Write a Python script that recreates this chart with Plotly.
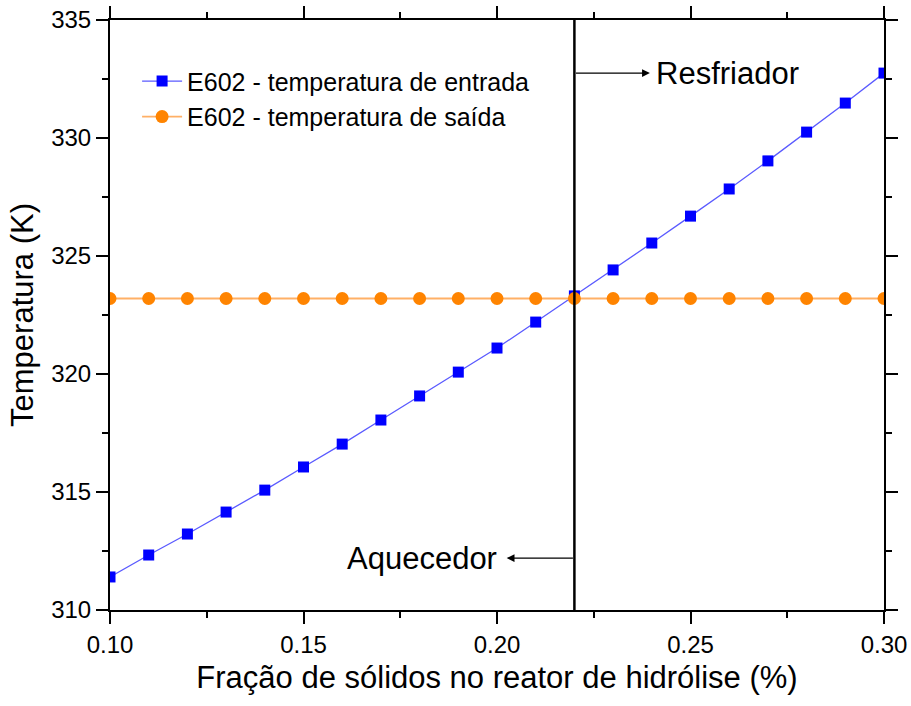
import plotly.graph_objects as go

# Fraction of solids in the hydrolysis reactor
fracao = [0.10, 0.11, 0.12, 0.13, 0.14, 0.15, 0.16, 0.17, 0.18, 0.19, 0.20,
          0.21, 0.22, 0.23, 0.24, 0.25, 0.26, 0.27, 0.28, 0.29, 0.30]
# E602 inlet temperature (K)
t_entrada = [311.40, 312.33, 313.22, 314.15, 315.08, 316.06, 317.03, 318.05,
             319.07, 320.08, 321.10, 322.20, 323.31, 324.41, 325.55, 326.69,
             327.84, 329.03, 330.25, 331.48, 332.75]
# E602 outlet temperature (K)
t_saida = [323.2] * len(fracao)

x_range = [0.10, 0.30]
y_range = [310, 335]
x_ticks = [0.10, 0.15, 0.20, 0.25, 0.30]
x_ticklabels = ["0.10", "0.15", "0.20", "0.25", "0.30"]
y_ticks = [310, 315, 320, 325, 330, 335]
x_corte = 0.22

FONT = "Liberation Sans, Arial, sans-serif"

fig = go.Figure()
fig.add_trace(go.Scatter(
    x=fracao, y=t_entrada, mode="lines+markers",
    name="E602 - temperatura de entrada",
    line=dict(color="#5a5aff", width=1.3),
    marker=dict(symbol="square", size=11, color="#0000ff"),
))
fig.add_trace(go.Scatter(
    x=fracao, y=t_saida, mode="lines+markers",
    name="E602 - temperatura de saída",
    line=dict(color="#ffb066", width=1.8),
    marker=dict(symbol="circle", size=13, color="#ff8400"),
))

# vertical divider between heater and cooler regions
fig.add_shape(type="line", xref="x", yref="paper", x0=x_corte, x1=x_corte,
              y0=0, y1=1, line=dict(color="black", width=2.5), layer="above")

# arrows and labels
fig.add_annotation(x=0.2395, y=332.75, ax=x_corte, ay=332.75, xref="x", yref="y",
                   axref="x", ayref="y", text="", showarrow=True, arrowhead=2,
                   arrowsize=1.3, arrowwidth=1.2, arrowcolor="black")
fig.add_annotation(x=0.2405, y=332.75, xref="x", yref="y", text="Resfriador",
                   showarrow=False, xanchor="left", yanchor="middle",
                   font=dict(family=FONT, size=31, color="black"))
fig.add_annotation(x=0.2025, y=312.2, ax=x_corte, ay=312.2, xref="x", yref="y",
                   axref="x", ayref="y", text="", showarrow=True, arrowhead=2,
                   arrowsize=1.3, arrowwidth=1.2, arrowcolor="black")
fig.add_annotation(x=0.2005, y=312.2, xref="x", yref="y", text="Aquecedor",
                   showarrow=False, xanchor="right", yanchor="middle",
                   font=dict(family=FONT, size=31, color="black"))

axis_common = dict(showgrid=False, zeroline=False, automargin=False,
                   showline=True, linecolor="black", linewidth=2, mirror="ticks",
                   ticks="outside", tickwidth=2, tickcolor="black", ticklen=12,
                   tickfont=dict(size=24))

fig.update_layout(
    width=911, height=706,
    margin=dict(l=110, r=27, t=20, b=96, autoexpand=False),
    paper_bgcolor="white", plot_bgcolor="white",
    font=dict(family=FONT, size=24, color="black"),
    showlegend=True,
    legend=dict(x=0.035, y=0.935, xanchor="left", yanchor="top",
                bgcolor="rgba(0,0,0,0)", font=dict(family=FONT, size=25),
                tracegroupgap=0, itemwidth=40),
    xaxis=dict(
        axis_common, range=x_range, tickvals=x_ticks, ticktext=x_ticklabels,
        minor=dict(ticks="outside", ticklen=6, tickwidth=2, tickcolor="black",
                   dtick=0.025, tick0=0.1),
        title=dict(text="Fração de sólidos no reator de hidrólise (%)",
                   font=dict(size=31), standoff=10),
    ),
    yaxis=dict(
        axis_common, range=y_range, tickvals=y_ticks,
        minor=dict(ticks="outside", ticklen=6, tickwidth=2, tickcolor="black",
                   dtick=2.5, tick0=310),
        title=dict(text="Temperatura (K)", font=dict(size=31), standoff=8),
    ),
)

fig.write_html("out.html")
